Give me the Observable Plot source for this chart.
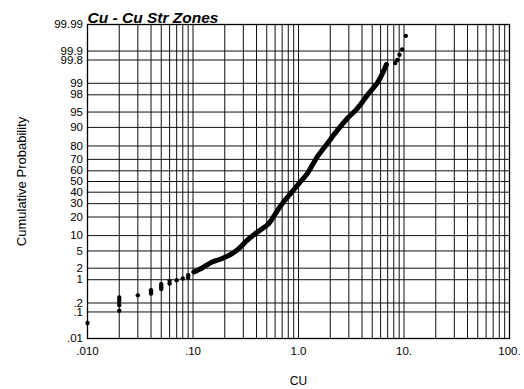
<!DOCTYPE html>
<html>
<head>
<meta charset="utf-8">
<script src="https://cdn.jsdelivr.net/npm/d3@7"></script>
<script src="https://cdn.jsdelivr.net/npm/@observablehq/plot@0.6"></script>
<style>
  html, body { margin: 0; padding: 0; background: #fff; }
  #chart { width: 524px; height: 389px; }
</style>
</head>
<body>
<div id="chart"></div>
<script>
// ---- data ----
const chartTitle = "Cu - Cu Str Zones";
const xLabel = "CU";
const yLabel = "Cumulative Probability";

// isolated (discrete) samples in the low and high tails
const tailCu   = [0.01, 0.02, 0.02, 0.02, 0.02, 0.02, 0.03, 0.04, 0.04, 0.04, 0.05, 0.05, 0.05, 0.05, 0.06, 0.06, 0.07, 0.08, 0.09, 0.09,
                  8.26, 8.63, 9.06, 9.61, 10.4];
const tailProb = [0.04, 0.11, 0.17, 0.21, 0.25, 0.30, 0.35, 0.40, 0.45, 0.50, 0.54, 0.60, 0.67, 0.75, 0.78, 0.93, 0.97, 1.08, 1.15, 1.32,
                  99.75, 99.80, 99.866, 99.912, 99.972];

// dense run of samples (appears as a continuous band)
const bandCu   = [0.102, 0.122, 0.152, 0.189, 0.235, 0.272, 0.327, 0.391, 0.523, 0.605, 0.700, 0.839, 1.007, 1.21, 1.50, 1.87, 2.33, 2.90, 3.60, 4.48, 5.65, 6.43, 6.82];
const bandProb = [1.61, 2.03, 2.84, 3.41, 4.40, 5.61, 8.21, 10.9, 16.0, 22.4, 30.0, 38.7, 48.0, 57.4, 71.9, 81.5, 88.7, 93.2, 95.8, 97.93, 99.07, 99.57, 99.72];

// axis ticks
const yTickValues = [0.01, 0.1, 0.2, 1, 2, 5, 10, 20, 30, 40, 50, 60, 70, 80, 90, 95, 98, 99, 99.8, 99.9, 99.99];
const yTickLabels = [".01", ".1", ".2", "1", "2", "5", "10", "20", "30", "40", "50", "60", "70", "80", "90", "95", "98", "99", "99.8", "99.9", "99.99"];
const xTickValues = [0.01, 0.1, 1, 10, 100];
const xTickLabels = [".010", ".10", "1.0", "10.", "100."];
const xDecades = [0.01, 0.1, 1, 10];

// ---- normal-probability transform (inverse normal CDF, Acklam) ----
function probit(p) {
  const a = [-3.969683028665376e+01, 2.209460984245205e+02, -2.759285104469687e+02, 1.383577518672690e+02, -3.066479806614716e+01, 2.506628277459239e+00];
  const b = [-5.447609879822406e+01, 1.615858368580409e+02, -1.556989798598866e+02, 6.680131188771972e+01, -1.328068155288572e+01];
  const c = [-7.784894002430293e-03, -3.223964580411365e-01, -2.400758277161838e+00, -2.549732539343734e+00, 4.374664141464968e+00, 2.938163982698783e+00];
  const d = [7.784695709041462e-03, 3.224671290700398e-01, 2.445134137142996e+00, 3.754408661907416e+00];
  const pl = 0.02425, ph = 1 - pl;
  let q, r;
  if (p < pl) {
    q = Math.sqrt(-2 * Math.log(p));
    return (((((c[0]*q+c[1])*q+c[2])*q+c[3])*q+c[4])*q+c[5]) / ((((d[0]*q+d[1])*q+d[2])*q+d[3])*q+1);
  }
  if (p <= ph) {
    q = p - 0.5; r = q * q;
    return (((((a[0]*r+a[1])*r+a[2])*r+a[3])*r+a[4])*r+a[5])*q / (((((b[0]*r+b[1])*r+b[2])*r+b[3])*r+b[4])*r+1);
  }
  q = Math.sqrt(-2 * Math.log(1 - p));
  return -(((((c[0]*q+c[1])*q+c[2])*q+c[3])*q+c[4])*q+c[5]) / ((((d[0]*q+d[1])*q+d[2])*q+d[3])*q+1);
}
const z = pct => probit(pct / 100);

const band = bandCu.map((v, i) => ({cu: v, z: z(bandProb[i])}));
const tails = tailCu.map((v, i) => ({cu: v, z: z(tailProb[i])}));
const allPts = tails.concat(band);

const xGrid = [];
for (const dec of xDecades) for (let k = 1; k < 10; k++) xGrid.push(k * dec);
xGrid.push(100);

const yTicks = yTickValues.map((p, i) => ({z: z(p), label: yTickLabels[i]}));
const xTicks = xTickValues.map((v, i) => ({x: v, label: xTickLabels[i]}));

const font = "'Liberation Sans', Arial, Helvetica, sans-serif";

const chart = Plot.plot({
  width: 524,
  height: 389,
  marginLeft: 87,
  marginRight: 15,
  marginTop: 24,
  marginBottom: 51,
  style: {fontFamily: font, fontSize: "11.5px", background: "white", color: "black", overflow: "visible"},
  x: {type: "log", domain: [0.01, 100], axis: null},
  y: {type: "linear", domain: [z(0.01), z(99.99)], axis: null},
  marks: [
    Plot.ruleX(xGrid, {x: d => d, stroke: "#111", strokeWidth: 1}),
    Plot.ruleY(yTicks, {y: "z", stroke: "#111", strokeWidth: 1}),
    Plot.frame({stroke: "black", strokeWidth: 1.3}),
    Plot.line(band, {x: "cu", y: "z", stroke: "black", strokeWidth: 5, strokeLinecap: "round", strokeLinejoin: "round", curve: "catmull-rom"}),
    Plot.dot(allPts, {x: "cu", y: "z", r: 2.2, fill: "black", stroke: null}),
    Plot.text(yTicks, {y: "z", text: "label", frameAnchor: "left", textAnchor: "end", lineAnchor: "middle", dx: -4.5, fill: "black"}),
    Plot.text(xTicks, {x: "x", text: "label", frameAnchor: "bottom", lineAnchor: "middle", dy: 13, textAnchor: "middle", fill: "black"}),
    Plot.text([xLabel], {frameAnchor: "bottom", lineAnchor: "middle", textAnchor: "middle", dy: 43, fontSize: 12, fill: "black"}),
    Plot.text([yLabel], {frameAnchor: "left", textAnchor: "middle", lineAnchor: "middle", dx: -66, rotate: -90, fontSize: 13, fill: "black"}),
    Plot.text([chartTitle], {frameAnchor: "top-left", dy: -2, textAnchor: "start", lineAnchor: "bottom", fontSize: 15.5, fontWeight: "bold", fontStyle: "italic", fill: "black"})
  ]
});
document.getElementById("chart").appendChild(chart);
</script>
</body>
</html>
